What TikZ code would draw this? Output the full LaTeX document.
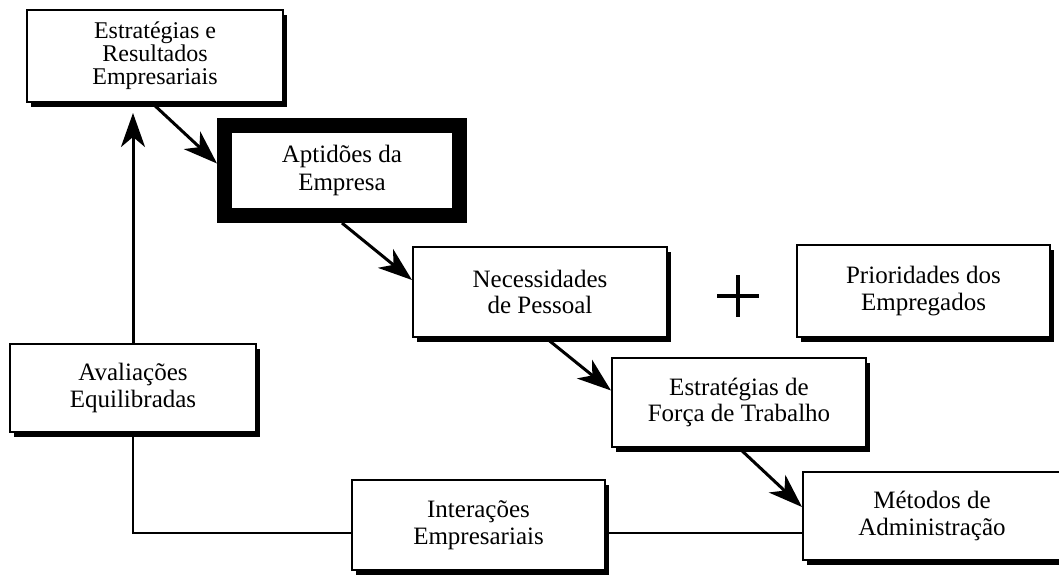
\documentclass[tikz,border=0pt]{standalone}
\usepackage{fontspec}
\setmainfont{Liberation Serif}
\usetikzlibrary{arrows.meta,shadows}
\begin{document}
\begin{tikzpicture}[x=1pt,y=-1pt,
  box/.style={draw=black, line width=2pt, fill=white, inner sep=0pt, align=center,
    font=\fontsize{25}{26.5}\selectfont,
    drop shadow={shadow xshift=4pt, shadow yshift=-4.5pt, fill=black, opacity=1}},
  thickbox/.style={draw=black, line width=15pt, fill=white, inner sep=0pt, align=center,
    font=\fontsize{25}{28}\selectfont},
  arr/.style={line width=3pt, -{Stealth[length=34pt,width=24pt,inset=10pt]}},
  link/.style={line width=2pt},
  plusbar/.style={line width=4.5pt}]
\useasboundingbox (0,0) rectangle (1059,579);
\clip (0,0) rectangle (1059,579);
\fill[white] (0,0) rectangle (1059,579);

\node[box, minimum width=256pt, minimum height=92pt, font=\fontsize{24}{23}\selectfont]
  (estr) at (155,56) {Estratégias e\\Resultados\\Empresariais};
\node[thickbox, minimum width=235pt, minimum height=90pt] (apt) at (342,170.5) {Aptidões da\\Empresa};
\node[box, minimum width=254pt, minimum height=90pt] (nec) at (540,292) {Necessidades\\de Pessoal};
\node[box, minimum width=253pt, minimum height=92pt] (pri) at (923.5,291) {Prioridades dos\\Empregados};
\node[box, minimum width=254pt, minimum height=89pt] (for) at (739,402.5) {Estratégias de\\Força de Trabalho};
\node[box, minimum width=246pt, minimum height=88pt] (ava) at (133,388) {Avaliações\\Equilibradas};
\node[box, minimum width=253pt, minimum height=90pt] (int) at (478.5,525) {Interações\\Empresariais};
\node[box, minimum width=258pt, minimum height=88pt] (met) at (932,516) {Métodos de\\Administração};

\coordinate (plus) at (738,296);
\draw[plusbar] ([xshift=-21pt]plus) -- ([xshift=21pt]plus);
\draw[plusbar] ([yshift=21pt]plus) -- ([yshift=-21pt]plus);

\draw[arr] ([xshift=-3pt]estr.south) -- ([yshift=7pt]apt.west);
\draw[arr] (apt.south) -- ([yshift=12pt]nec.west);
\draw[arr] ([xshift=6pt]nec.south) -- ([yshift=12pt]for.west);
\draw[arr] (for.south) -- ([yshift=9pt]met.west);
\draw[arr, shorten >=10pt] (ava.north) -- (ava.north |- estr.south);

\draw[link] (ava.south) |- ([yshift=-8pt]int.west);
\draw[link] ([yshift=-8pt]int.east) -- ([yshift=-8pt]int.east -| met.west);
\end{tikzpicture}
\end{document}
